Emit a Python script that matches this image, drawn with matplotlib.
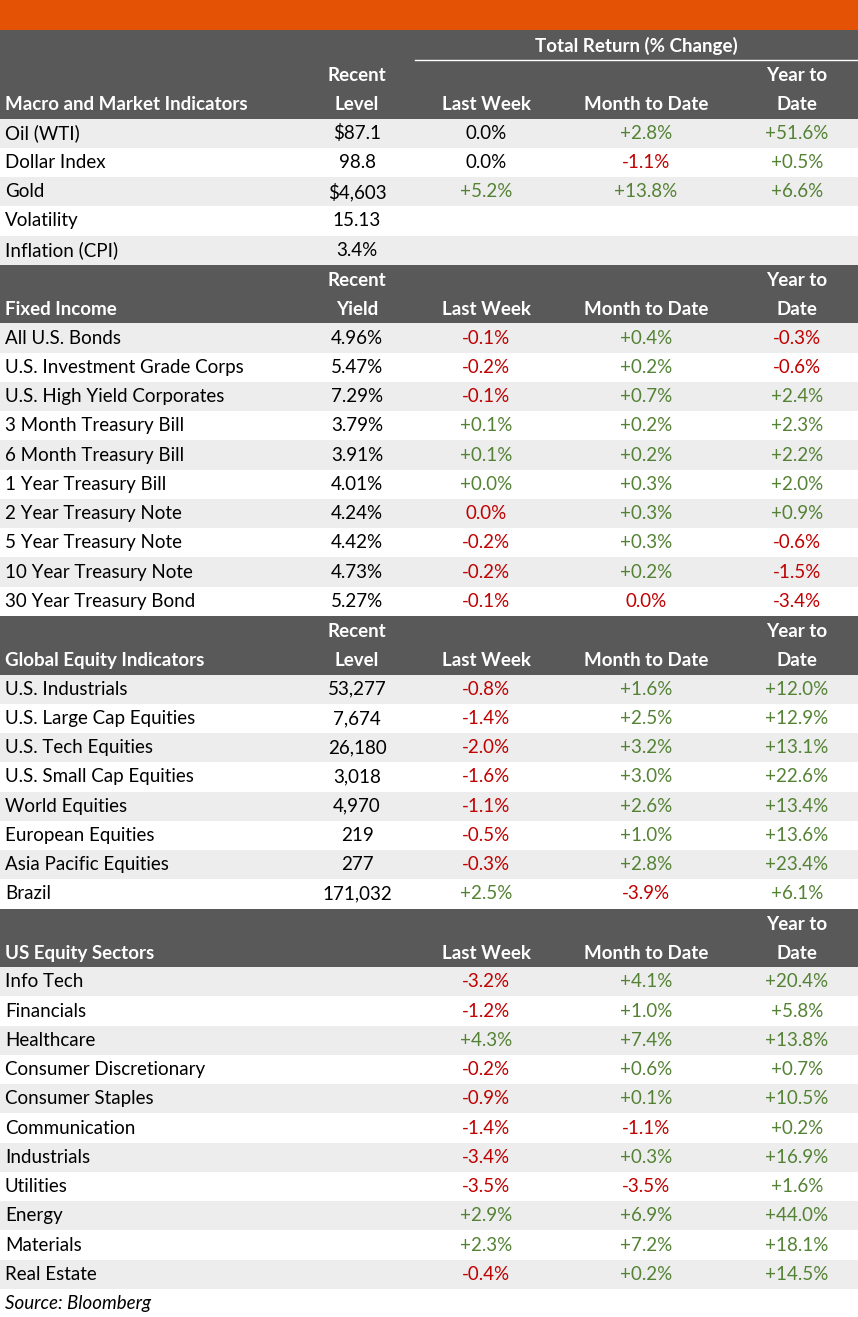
import matplotlib
matplotlib.use("Agg")
import matplotlib.pyplot as plt
from matplotlib.patches import Rectangle

plt.rcParams['font.family'] = ['Lato', 'DejaVu Sans']

macro_labels = ["Oil (WTI)", "Dollar Index", "Gold", "Volatility", "Inflation (CPI)"]
macro_level = ["$87.1", "98.8", "$4,603", "15.13", "3.4%"]
macro_lw = ["0.0%", "0.0%", "+5.2%", "", ""]
macro_mtd = ["+2.8%", "-1.1%", "+13.8%", "", ""]
macro_ytd = ["+51.6%", "+0.5%", "+6.6%", "", ""]

fi_labels = ["All U.S. Bonds", "U.S. Investment Grade Corps", "U.S. High Yield Corporates",
             "3 Month Treasury Bill", "6 Month Treasury Bill", "1 Year Treasury Bill",
             "2 Year Treasury Note", "5 Year Treasury Note", "10 Year Treasury Note", "30 Year Treasury Bond"]
fi_yield = ["4.96%", "5.47%", "7.29%", "3.79%", "3.91%", "4.01%", "4.24%", "4.42%", "4.73%", "5.27%"]
fi_lw = ["-0.1%", "-0.2%", "-0.1%", "+0.1%", "+0.1%", "+0.0%", "0.0%", "-0.2%", "-0.2%", "-0.1%"]
fi_mtd = ["+0.4%", "+0.2%", "+0.7%", "+0.2%", "+0.2%", "+0.3%", "+0.3%", "+0.3%", "+0.2%", "0.0%"]
fi_ytd = ["-0.3%", "-0.6%", "+2.4%", "+2.3%", "+2.2%", "+2.0%", "+0.9%", "-0.6%", "-1.5%", "-3.4%"]

eq_labels = ["U.S. Industrials", "U.S. Large Cap Equities", "U.S. Tech Equities", "U.S. Small Cap Equities",
             "World Equities", "European Equities", "Asia Pacific Equities", "Brazil"]
eq_level = ["53,277", "7,674", "26,180", "3,018", "4,970", "219", "277", "171,032"]
eq_lw = ["-0.8%", "-1.4%", "-2.0%", "-1.6%", "-1.1%", "-0.5%", "-0.3%", "+2.5%"]
eq_mtd = ["+1.6%", "+2.5%", "+3.2%", "+3.0%", "+2.6%", "+1.0%", "+2.8%", "-3.9%"]
eq_ytd = ["+12.0%", "+12.9%", "+13.1%", "+22.6%", "+13.4%", "+13.6%", "+23.4%", "+6.1%"]

sec_labels = ["Info Tech", "Financials", "Healthcare", "Consumer Discretionary", "Consumer Staples",
              "Communication", "Industrials", "Utilities", "Energy", "Materials", "Real Estate"]
sec_level = [""] * 11
sec_lw = ["-3.2%", "-1.2%", "+4.3%", "-0.2%", "-0.9%", "-1.4%", "-3.4%", "-3.5%", "+2.9%", "+2.3%", "-0.4%"]
sec_mtd = ["+4.1%", "+1.0%", "+7.4%", "+0.6%", "+0.1%", "-1.1%", "+0.3%", "-3.5%", "+6.9%", "+7.2%", "+0.2%"]
sec_ytd = ["+20.4%", "+5.8%", "+13.8%", "+0.7%", "+10.5%", "+0.2%", "+16.9%", "+1.6%", "+44.0%", "+18.1%", "+14.5%"]

sections = [
    ("Macro and Market Indicators", "Recent\nLevel", macro_labels, macro_level, macro_lw, macro_mtd, macro_ytd, "black"),
    ("Fixed Income", "Recent\nYield", fi_labels, fi_yield, fi_lw, fi_mtd, fi_ytd, "#c00000"),
    ("Global Equity Indicators", "Recent\nLevel", eq_labels, eq_level, eq_lw, eq_mtd, eq_ytd, "#c00000"),
    ("US Equity Sectors", "", sec_labels, sec_level, sec_lw, sec_mtd, sec_ytd, "#c00000"),
]

W, H = 858, 1317
fig = plt.figure(figsize=(W / 100, H / 100), dpi=100)
ax = fig.add_axes([0, 0, 1, 1])
ax.set_xlim(0, W)
ax.set_ylim(H, 0)
ax.axis("off")

GREEN = "#548235"
RED = "#c00000"
HDR = "#595959"
GREY = "#ededed"
FS = 13.5
xs = [357, 486, 646, 797]

ax.add_patch(Rectangle((0, 0), W, 30, color="#e35205", lw=0))
y = 30
rh = 29.25
hh = 58.6

def col(v, zero):
    if v.startswith("+"):
        return GREEN
    if v.startswith("-"):
        return RED
    return zero

for i, (title, rec, labels, lev, lw, mtd, ytd, zero) in enumerate(sections):
    if i == 0:
        ax.add_patch(Rectangle((0, y), W, 30 + hh, color=HDR, lw=0))
        ax.text(636, y + 16, "Total Return (% Change)", ha="center", va="center",
                color="white", fontsize=FS, fontweight="bold")
        ax.plot([415, W], [y + 30, y + 30], color="white", lw=1)
        y += 30
    else:
        ax.add_patch(Rectangle((0, y), W, hh, color=HDR, lw=0))
    l1 = y + hh * 0.27
    l2 = y + hh * 0.76
    ax.text(5, l2, title, ha="left", va="center", color="white", fontsize=FS, fontweight="bold")
    if rec:
        a, b = rec.split("\n")
        ax.text(xs[0], l1, a, ha="center", va="center", color="white", fontsize=FS, fontweight="bold")
        ax.text(xs[0], l2, b, ha="center", va="center", color="white", fontsize=FS, fontweight="bold")
    ax.text(xs[1], l2, "Last Week", ha="center", va="center", color="white", fontsize=FS, fontweight="bold")
    ax.text(xs[2], l2, "Month to Date", ha="center", va="center", color="white", fontsize=FS, fontweight="bold")
    ax.text(xs[3], l1, "Year to", ha="center", va="center", color="white", fontsize=FS, fontweight="bold")
    ax.text(xs[3], l2, "Date", ha="center", va="center", color="white", fontsize=FS, fontweight="bold")
    y += hh
    for j, lab in enumerate(labels):
        if j % 2 == 0:
            ax.add_patch(Rectangle((0, y), W, rh, color=GREY, lw=0))
        c = y + rh / 2
        ax.text(5, c, lab, ha="left", va="center", color="black", fontsize=FS)
        ax.text(xs[0], c, lev[j], ha="center", va="center", color="black", fontsize=FS)
        for x, v in zip(xs[1:], (lw[j], mtd[j], ytd[j])):
            ax.text(x, c, v, ha="center", va="center", color=col(v, zero), fontsize=FS)
        y += rh

ax.text(5, y + 15, "Source: Bloomberg", ha="left", va="center", fontsize=FS, style="italic")
fig.savefig("out.png", dpi=100)
